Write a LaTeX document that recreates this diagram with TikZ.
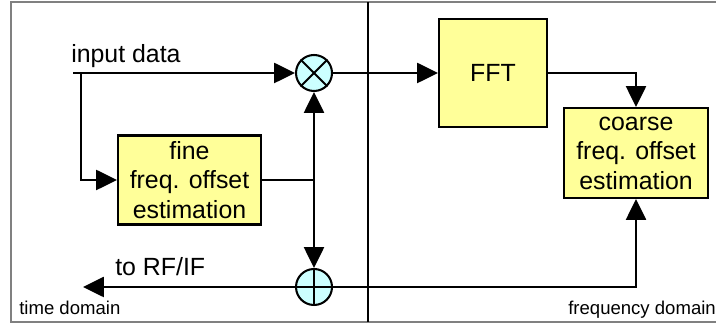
\documentclass[tikz,border=0pt]{standalone}
\usepackage{fontspec}
\setmainfont{Liberation Sans}
\usetikzlibrary{arrows.meta,shapes.misc}
\tikzset{
  block/.style={draw,line width=1.45pt,fill=blockyellow,inner sep=0pt,align=center,
    font=\fontsize{17.7}{21}\selectfont},
  joint/.style={draw,circle,line width=1.45pt,fill=jointcyan,minimum size=0.9cm,inner sep=0pt},
  flow/.style={line width=1.45pt,-{Triangle[length=5.2mm,width=5mm]}},
  wire/.style={line width=1.45pt},
  biglabel/.style={anchor=base west,inner sep=0pt,font=\fontsize{17.7}{21}\selectfont},
  smalllabel/.style={anchor=base west,inner sep=0pt,font=\fontsize{13.2}{16}\selectfont}
}
\definecolor{blockyellow}{HTML}{FFFF99}
\definecolor{jointcyan}{HTML}{CCFFFF}
\definecolor{framegray}{HTML}{808080}
\begin{document}
\begin{tikzpicture}
\useasboundingbox (0cm,0cm) rectangle (17.9cm,-8.125cm);
\draw[framegray,line width=1.3pt] (17.9cm,-0.06cm) -- (0.28cm,-0.06cm) -- (0.28cm,-8.05cm) -- (17.9cm,-8.05cm);
\draw[wire,line width=1.1pt] (9.2cm,-0.06cm) -- (9.2cm,-8.05cm);

\draw (7.85cm,-1.825cm) node (mix) [joint] {};
\draw[wire] (mix.north west) -- (mix.south east);
\draw[wire] (mix.north east) -- (mix.south west);
\draw (7.85cm,-7.175cm) node (add) [joint] {};
\draw[wire] (add.north) -- (add.south);
\draw[wire] (add.west) -- (add.east);

\draw (4.7375cm,-4.5cm) node (fine) [block,minimum width=3.575cm,minimum height=2.225cm] {fine\\freq. offset\\estimation};
\draw (12.325cm,-1.825cm) node (fft) [block,minimum width=2.7cm,minimum height=2.7cm] {FFT};
\draw (15.9cm,-3.825cm) node (coarse) [block,minimum width=3.6cm,minimum height=2.25cm] {coarse\\freq. offset\\estimation};

\coordinate (in) at (1.825cm,-1.825cm);
\coordinate (tap) at (2.025cm,-1.825cm);
\coordinate (junc) at (7.85cm,-4.5cm);
\coordinate (out) at (2.075cm,-7.175cm);

\draw[flow] (in) -- (mix);
\draw[flow] (tap) |- (fine);
\draw[wire] (fine) -- (junc);
\draw[flow] (junc) -- (mix);
\draw[flow] (junc) -- (add);
\draw[flow] (add) -- (out);
\draw[flow] (mix) -- (fft);
\draw[flow] (fft) -| (coarse);
\draw[flow] (add) -| (coarse);

\draw (1.775cm,-1.56cm) node (inlabel) [biglabel] {input data};
\draw (2.875cm,-6.9cm) node (outlabel) [biglabel] {to RF/IF};
\draw (0.475cm,-7.875cm) node (timelabel) [smalllabel] {time domain};
\draw (14.2cm,-7.875cm) node (freqlabel) [smalllabel] {frequency domain};
\end{tikzpicture}
\end{document}
